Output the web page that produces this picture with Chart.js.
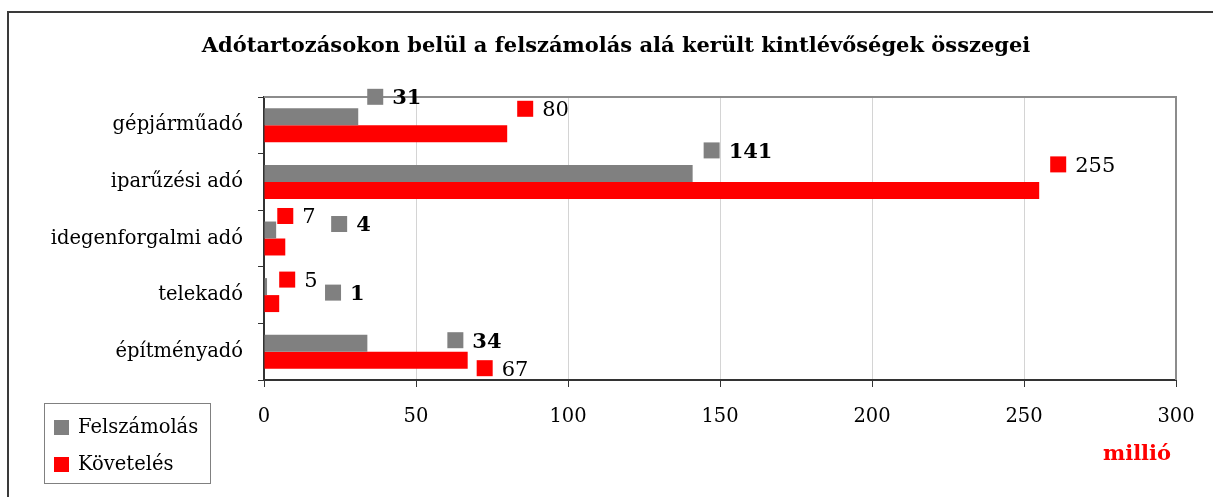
<!DOCTYPE html>
<html>
<head>
<meta charset="utf-8">
<script src="https://cdn.jsdelivr.net/npm/chart.js@4"></script>
<style>
  html, body { margin: 0; padding: 0; background: #fff; }
  #wrap { width: 1213px; height: 497px; position: relative; }
</style>
</head>
<body>
<div id="wrap"><canvas id="adok" width="1213" height="497"></canvas></div>
<script>
//data
var categories = ['gépjárműadó', 'iparűzési adó', 'idegenforgalmi adó', 'telekadó', 'építményadó'];
var felszamolas = [31, 141, 4, 1, 34];
var koveteles = [80, 255, 7, 5, 67];
var xTicks = [0, 50, 100, 150, 200, 250, 300];

//where the value labels sit, relative to the bar end (px)
var labelOffsets = [
  [[17, -20], [19, -23], [63, -6], [66, 6], [88, -3]],
  [[18, -25], [19, -26], [0, -31], [8, -24], [17, 8]]
];

var FONT = '"DejaVu Serif", "Liberation Serif", serif';
var GRAY = '#808080';
var RED = '#ff0000';

//extra drawing: frame, title, value labels, legend, unit
var decorations = {
  id: 'decorations',
  beforeDraw: function(chart) {
    var ctx = chart.ctx;
    ctx.save();
    ctx.fillStyle = '#fff';
    ctx.fillRect(0, 0, chart.width, chart.height);
    ctx.restore();
  },
  afterDraw: function(chart) {
    var ctx = chart.ctx;
    var area = chart.chartArea;
    ctx.save();

    // outer frame
    ctx.strokeStyle = '#3a3a3a';
    ctx.lineWidth = 2;
    ctx.beginPath();
    ctx.moveTo(8, 497);
    ctx.lineTo(8, 12);
    ctx.lineTo(1213, 12);
    ctx.stroke();

    // plot area top and right border
    ctx.strokeStyle = '#8c8c8c';
    ctx.lineWidth = 2;
    ctx.beginPath();
    ctx.moveTo(area.left, area.top);
    ctx.lineTo(area.right, area.top);
    ctx.lineTo(area.right, area.bottom);
    ctx.stroke();

    // title
    ctx.fillStyle = '#000';
    ctx.font = 'bold 21px ' + FONT;
    ctx.textAlign = 'center';
    ctx.textBaseline = 'middle';
    ctx.fillText('Adótartozásokon belül a felszámolás alá került kintlévőségek összegei', 616, 47);

    // value labels with legend keys
    var colors = [GRAY, RED];
    var weights = ['bold ', ''];
    chart.data.datasets.forEach(function(ds, di) {
      var meta = chart.getDatasetMeta(di);
      meta.data.forEach(function(bar, i) {
        var off = labelOffsets[di][i];
        var cx = bar.x + off[0];
        var cy = bar.y + off[1];
        ctx.fillStyle = colors[di];
        ctx.fillRect(cx - 8, cy - 8, 16, 16);
        ctx.fillStyle = '#000';
        ctx.font = weights[di] + '21px ' + FONT;
        ctx.textAlign = 'left';
        ctx.textBaseline = 'middle';
        ctx.fillText(String(ds.data[i]), cx + 17, cy + 2);
      });
    });

    // legend box
    ctx.strokeStyle = '#808080';
    ctx.lineWidth = 1;
    ctx.strokeRect(44.5, 403.5, 166, 80);
    ctx.font = '19.5px ' + FONT;
    ctx.textAlign = 'left';
    ctx.textBaseline = 'middle';
    ctx.fillStyle = GRAY;
    ctx.fillRect(54, 420, 15, 15);
    ctx.fillStyle = RED;
    ctx.fillRect(54, 457, 15, 15);
    ctx.fillStyle = '#000';
    ctx.fillText('Felszámolás', 78, 428);
    ctx.fillText('Követelés', 78, 465);

    // unit
    ctx.fillStyle = RED;
    ctx.font = 'bold 21px ' + FONT;
    ctx.textAlign = 'center';
    ctx.fillText('millió', 1137, 455);

    ctx.restore();
  }
};

var ctx = document.getElementById('adok').getContext('2d');
var myChart = new Chart(ctx, {
  type: 'bar',
  plugins: [decorations],
  data: {
    labels: categories,
    datasets: [
      {
        label: 'Felszámolás',
        data: felszamolas,
        backgroundColor: GRAY,
        borderWidth: 0
      },
      {
        label: 'Követelés',
        data: koveteles,
        backgroundColor: RED,
        borderWidth: 0
      }
    ]
  },
  options: {
    indexAxis: 'y',
    responsive: false,
    animation: false,
    events: [],
    barPercentage: 1.0,
    categoryPercentage: 0.6,
    layout: {
      padding: { top: 97, right: 37, left: 0, bottom: 0 }
    },
    plugins: {
      legend: { display: false },
      title: { display: false },
      tooltip: { enabled: false }
    },
    scales: {
      x: {
        min: 0,
        max: 300,
        afterBuildTicks: function(scale) {
          scale.ticks = xTicks.map(function(v) { return { value: v }; });
        },
        afterFit: function(scale) { scale.height = 117; },
        border: { color: '#333', width: 2 },
        grid: {
          color: function(c) {
            return (c.index === 0 || c.index === xTicks.length - 1) ? 'rgba(0,0,0,0)' : '#d4d4d4';
          },
          tickColor: '#333',
          tickLength: 7,
          lineWidth: 1
        },
        ticks: {
          color: '#000',
          padding: 18,
          font: { family: FONT, size: 19.5 }
        }
      },
      y: {
        afterFit: function(scale) { scale.width = 264; },
        border: { color: '#333', width: 2 },
        grid: {
          offset: true,
          drawOnChartArea: false,
          tickColor: '#333',
          tickLength: 6
        },
        ticks: {
          color: '#000',
          padding: 15,
          font: { family: FONT, size: 19.5 }
        }
      }
    }
  }
});
</script>
</body>
</html>
